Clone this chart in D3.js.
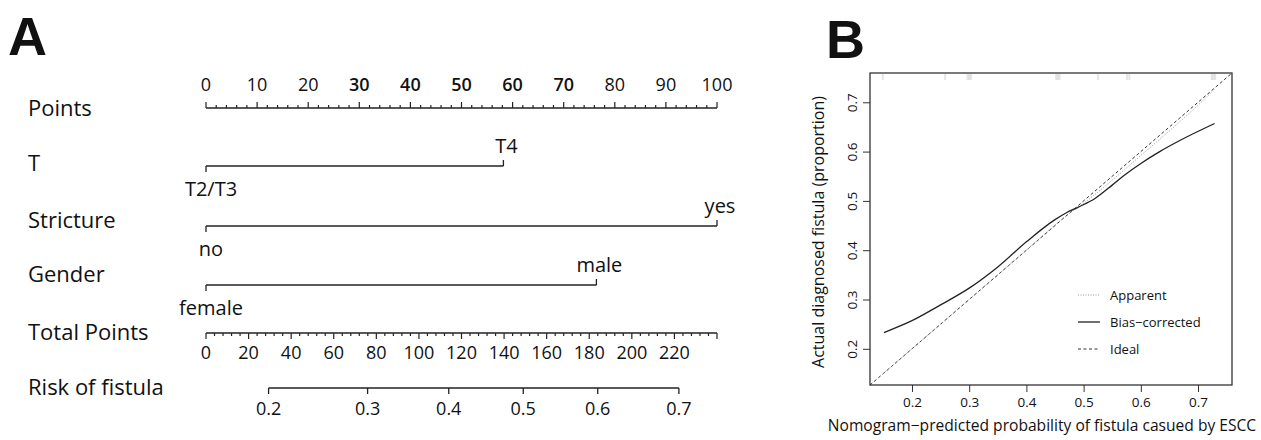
<!DOCTYPE html>
<html>
<head>
<meta charset="utf-8">
<script src="https://cdn.jsdelivr.net/npm/d3@7"></script>
<style>
  html, body { margin: 0; padding: 0; background: #fff; }
  svg { display: block; }
  text { font-family: "Open Sans", "Noto Sans", sans-serif; fill: #111; }
</style>
</head>
<body>
<svg id="chart" width="1261" height="440"></svg>
<script>
// ---- Nomogram (panel A) ----
const rowNames = ["Points", "T", "Stricture", "Gender", "Total Points", "Risk of fistula"];
const pointTicks = [0, 10, 20, 30, 40, 50, 60, 70, 80, 90, 100];
const totalTicks = [0, 20, 40, 60, 80, 100, 120, 140, 160, 180, 200, 220];
const riskTicks = [0.2, 0.3, 0.4, 0.5, 0.6, 0.7];

const tLevels = ["T2/T3", "T4"];
const tPoints = [0, 58.2];
const strictureLevels = ["no", "yes"];
const stricturePoints = [0, 100];
const genderLevels = ["female", "male"];
const genderPoints = [0, 76.4];

// linear predictor: logit(risk) = slope * (total - totalAtHalf)
const totalAtHalf = 149;
const logitPerPoint = 0.01159;

// ---- Calibration curve (panel B) ----
const calTicks = [0.2, 0.3, 0.4, 0.5, 0.6, 0.7];
const biasX = [0.151, 0.200, 0.250, 0.300, 0.350, 0.400, 0.450, 0.470, 0.490, 0.520, 0.550, 0.570, 0.600, 0.633, 0.669, 0.729];
const biasY = [0.233, 0.257, 0.289, 0.323, 0.366, 0.417, 0.462, 0.476, 0.487, 0.505, 0.532, 0.551, 0.576, 0.600, 0.623, 0.657];
const apparentX = [0.150, 0.200, 0.300, 0.400, 0.470, 0.500, 0.550, 0.600, 0.650, 0.700, 0.730];
const apparentY = [0.150, 0.200, 0.300, 0.400, 0.470, 0.495, 0.542, 0.592, 0.642, 0.694, 0.728];
const rugValues = [0.149, 0.258, 0.297, 0.300, 0.303, 0.452, 0.455, 0.458, 0.525, 0.576, 0.580, 0.724, 0.727, 0.730];
const legendLabels = ["Apparent", "Bias\u2212corrected", "Ideal"];

const svg = d3.select("#chart");
const ink = "#222";

// panel letters
svg.append("text").attr("x", 8).attr("y", 55)
  .style("font-family", "'Liberation Sans', Arial, sans-serif")
  .style("font-weight", 700).style("font-size", "54px").text("A");
svg.append("text").attr("x", 826).attr("y", 58)
  .style("font-family", "'Liberation Sans', Arial, sans-serif")
  .style("font-weight", 700).style("font-size", "54px").text("B");

// ---------- Panel A ----------
const xPts = d3.scaleLinear().domain([0, 100]).range([206, 717]);
const xTot = d3.scaleLinear().domain([0, 240]).range([206, 717]);
const rowY = [108, 166, 226, 285, 333, 388];
const labelY = [108, 163, 220, 274, 332, 387];

const A = svg.append("g");

A.selectAll("text.row").data(rowNames).join("text")
  .attr("class", "row")
  .attr("x", 28).attr("y", (d, i) => labelY[i])
  .attr("dy", "0.35em")
  .style("font-size", "22px")
  .text(d => d);

// Points scale (ticks pointing up)
const ptsAxis = A.append("g");
ptsAxis.append("line").attr("x1", xPts(0)).attr("x2", xPts(100))
  .attr("y1", rowY[0]).attr("y2", rowY[0]).attr("stroke", ink).attr("stroke-width", 1.3);
ptsAxis.selectAll("line.minor").data(d3.range(0, 101, 2)).join("line")
  .attr("class", "minor")
  .attr("x1", d => xPts(d)).attr("x2", d => xPts(d))
  .attr("y1", rowY[0]).attr("y2", d => rowY[0] - (d % 10 === 0 ? 6 : 3))
  .attr("stroke", ink).attr("stroke-width", 1.2);
ptsAxis.selectAll("text").data(pointTicks).join("text")
  .attr("x", d => xPts(d)).attr("y", 91)
  .attr("text-anchor", "middle")
  .style("font-size", "18px")
  .style("font-weight", d => (d >= 30 && d <= 70 ? 600 : 400))
  .text(d => d);

// categorical predictors
const predictors = [
  { levels: tLevels, pts: tPoints, y: rowY[1] },
  { levels: strictureLevels, pts: stricturePoints, y: rowY[2] },
  { levels: genderLevels, pts: genderPoints, y: rowY[3] }
];
predictors.forEach(p => {
  const g = A.append("g");
  g.append("line")
    .attr("x1", xPts(d3.min(p.pts))).attr("x2", xPts(d3.max(p.pts)))
    .attr("y1", p.y).attr("y2", p.y).attr("stroke", ink).attr("stroke-width", 1.3);
  p.levels.forEach((lev, i) => {
    const x = xPts(p.pts[i]);
    const up = i % 2 === 1;
    g.append("line").attr("x1", x).attr("x2", x)
      .attr("y1", p.y).attr("y2", p.y + (up ? -6 : 6))
      .attr("stroke", ink).attr("stroke-width", 1.3);
    g.append("text")
      .attr("x", x + (up ? 3 : 5))
      .attr("y", p.y + (up ? -13 : 30))
      .attr("text-anchor", "middle")
      .style("font-size", "20px")
      .text(lev);
  });
});

// Total points scale (ticks pointing down)
const totAxis = A.append("g");
totAxis.append("line").attr("x1", xTot(0)).attr("x2", xTot(240))
  .attr("y1", rowY[4]).attr("y2", rowY[4]).attr("stroke", ink).attr("stroke-width", 1.3);
totAxis.selectAll("line.minor").data(d3.range(0, 241, 4)).join("line")
  .attr("class", "minor")
  .attr("x1", d => xTot(d)).attr("x2", d => xTot(d))
  .attr("y1", rowY[4]).attr("y2", d => rowY[4] + (d % 20 === 0 ? 6 : 3))
  .attr("stroke", ink).attr("stroke-width", 1.2);
totAxis.selectAll("text").data(totalTicks).join("text")
  .attr("x", d => xTot(d)).attr("y", 359)
  .attr("text-anchor", "middle")
  .style("font-size", "18px")
  .text(d => d);

// Risk scale
const logit = p => Math.log(p / (1 - p));
const riskToTotal = p => totalAtHalf + logit(p) / logitPerPoint;
const riskAxis = A.append("g");
riskAxis.append("line")
  .attr("x1", xTot(riskToTotal(riskTicks[0])))
  .attr("x2", xTot(riskToTotal(riskTicks[riskTicks.length - 1])))
  .attr("y1", rowY[5]).attr("y2", rowY[5]).attr("stroke", ink).attr("stroke-width", 1.3);
riskAxis.selectAll("line.tk").data(riskTicks).join("line")
  .attr("class", "tk")
  .attr("x1", d => xTot(riskToTotal(d))).attr("x2", d => xTot(riskToTotal(d)))
  .attr("y1", rowY[5]).attr("y2", rowY[5] + 6)
  .attr("stroke", ink).attr("stroke-width", 1.3);
riskAxis.selectAll("text").data(riskTicks).join("text")
  .attr("x", d => xTot(riskToTotal(d))).attr("y", 415)
  .attr("text-anchor", "middle")
  .style("font-size", "18px")
  .text(d => d.toFixed(1));

// ---------- Panel B ----------
const calDomain = [0.1266, 0.7594];
const xCal = d3.scaleLinear().domain(calDomain).range([870, 1232]);
const yCal = d3.scaleLinear().domain(calDomain).range([385, 73]);
const B = svg.append("g");

B.append("rect").attr("x", 870).attr("y", 73).attr("width", 362).attr("height", 312)
  .attr("fill", "none").attr("stroke", "#333").attr("stroke-width", 1.3);

// axes
const xAx = B.append("g").attr("transform", "translate(0,385)")
  .call(d3.axisBottom(xCal).tickValues(calTicks).tickFormat(d3.format(".1f")).tickSize(7).tickSizeOuter(0));
xAx.select(".domain").remove();
xAx.selectAll("line").attr("stroke", "#333");
xAx.selectAll("text").style("font-size", "13.5px").attr("dy", "0").attr("y", 22)
  .style("font-family", "'Open Sans', sans-serif").attr("fill", "#222");

const yAx = B.append("g").attr("transform", "translate(870,0)")
  .call(d3.axisLeft(yCal).tickValues(calTicks).tickFormat(d3.format(".1f")).tickSize(7).tickSizeOuter(0));
yAx.select(".domain").remove();
yAx.selectAll("line").attr("stroke", "#333");
yAx.selectAll("text")
  .style("font-size", "13.5px")
  .style("font-family", "'Open Sans', sans-serif").attr("fill", "#222")
  .attr("x", null).attr("dy", null)
  .attr("text-anchor", "middle")
  .attr("transform", "translate(-18,0) rotate(-90)")
  .attr("y", 0).attr("dy", "0.35em");

// axis titles
B.append("text").attr("x", 1042).attr("y", 431)
  .attr("text-anchor", "middle").style("font-size", "15.6px")
  .text("Nomogram\u2212predicted probability of fistula casued by ESCC");
B.append("text")
  .attr("transform", "translate(824,232) rotate(-90)")
  .attr("text-anchor", "middle").style("font-size", "16px")
  .text("Actual diagnosed fistula (proportion)");

// rug of predicted values along the top
B.selectAll("line.rug").data(rugValues).join("line")
  .attr("class", "rug")
  .attr("x1", d => xCal(d)).attr("x2", d => xCal(d))
  .attr("y1", 74).attr("y2", 80)
  .attr("stroke", "#999").attr("stroke-opacity", 0.25).attr("stroke-width", 2);

// ideal diagonal
B.append("line")
  .attr("x1", xCal(calDomain[0])).attr("y1", yCal(calDomain[0]))
  .attr("x2", xCal(calDomain[1])).attr("y2", yCal(calDomain[1]))
  .attr("stroke", "#333").attr("stroke-width", 1).attr("stroke-dasharray", "3,2.5");

const line = d3.line().curve(d3.curveMonotoneX);
// apparent
B.append("path")
  .attr("d", line(apparentX.map((x, i) => [xCal(x), yCal(apparentY[i])])))
  .attr("fill", "none").attr("stroke", "#999").attr("stroke-width", 1)
  .attr("stroke-dasharray", "1,1.5");
// bias-corrected
B.append("path")
  .attr("d", line(biasX.map((x, i) => [xCal(x), yCal(biasY[i])])))
  .attr("fill", "none").attr("stroke", "#222").attr("stroke-width", 1.3);

// legend
const legStyles = [
  { stroke: "#999", dash: "1,1.5", w: 1 },
  { stroke: "#222", dash: null, w: 1.3 },
  { stroke: "#333", dash: "3,2.5", w: 1 }
];
const leg = B.selectAll("g.leg").data(legendLabels).join("g")
  .attr("class", "leg")
  .attr("transform", (d, i) => `translate(1078,${295 + i * 27})`);
leg.append("line").attr("x1", 0).attr("x2", 22).attr("y1", 0).attr("y2", 0)
  .attr("stroke", (d, i) => legStyles[i].stroke)
  .attr("stroke-width", (d, i) => legStyles[i].w)
  .attr("stroke-dasharray", (d, i) => legStyles[i].dash);
leg.append("text").attr("x", 32).attr("y", 0).attr("dy", "0.35em")
  .style("font-size", "13px").text(d => d);
</script>
</body>
</html>
